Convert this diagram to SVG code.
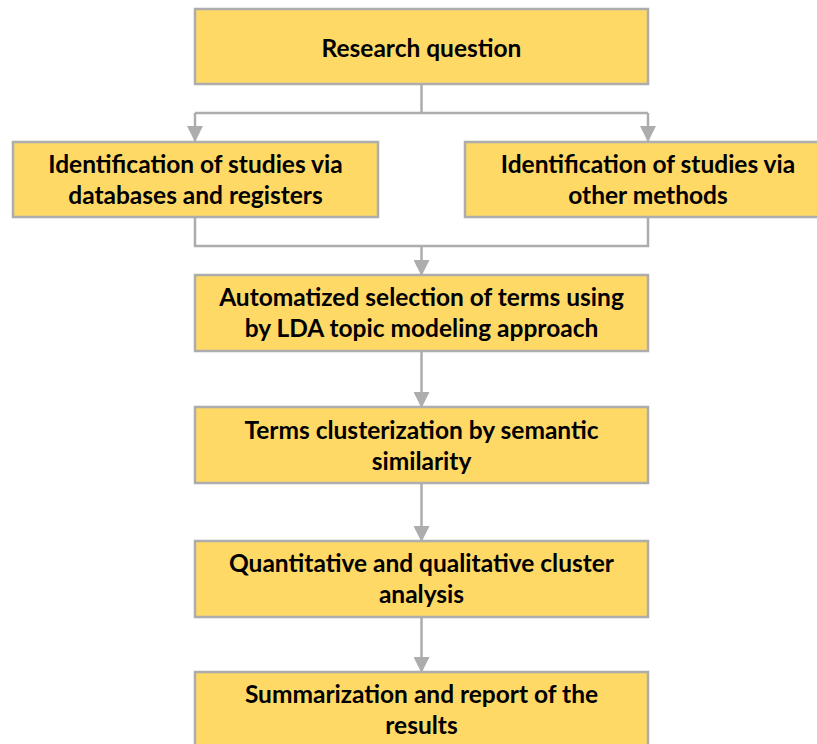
<svg xmlns="http://www.w3.org/2000/svg" width="817" height="744" viewBox="0 0 817 744">
<style>
.box{fill:#FFD966;stroke:#ADADAD;stroke-width:2.5}
.t{font-family:Lato,"Open Sans","Liberation Sans",sans-serif;font-weight:bold;font-size:24.5px;fill:#000;text-anchor:middle}
.c{fill:none;stroke:#ADADAD;stroke-width:2.5}
</style>
<defs>
<marker id="ah" viewBox="0 0 16 16" markerWidth="16" markerHeight="16" refX="15" refY="8" orient="auto" markerUnits="userSpaceOnUse">
<path d="M0,0 L16,8 L0,16 Z" fill="#ADADAD"/>
</marker>
</defs>
<rect width="817" height="744" fill="#fff"/>
<g id="connectors">
<path class="c" d="M421.5,84 V113"/>
<path class="c" d="M195,113 H648"/>
<path class="c" d="M195,113 V141" marker-end="url(#ah)"/>
<path class="c" d="M648,113 V141" marker-end="url(#ah)"/>
<path class="c" d="M195,217 V246 H648 V217"/>
<path class="c" d="M421.5,246 V275" marker-end="url(#ah)"/>
<path class="c" d="M421.5,351 V407" marker-end="url(#ah)"/>
<path class="c" d="M421.5,483 V541" marker-end="url(#ah)"/>
<path class="c" d="M421.5,617 V672" marker-end="url(#ah)"/>
</g>
<g id="n1"><rect class="box" x="195" y="9" width="453" height="75"/><text class="t" x="421.5" y="57">Research question</text></g>
<g id="n2"><rect class="box" x="13" y="142" width="365" height="75"/><text class="t" x="195.5" y="173">Identification of studies via</text><text class="t" x="195.5" y="204">databases and registers</text></g>
<g id="n3"><rect class="box" x="465" y="142" width="366" height="75"/><text class="t" x="648" y="173">Identification of studies via</text><text class="t" x="648" y="204">other methods</text></g>
<g id="n4"><rect class="box" x="195" y="275" width="453" height="76"/><text class="t" x="421.5" y="306">Automatized selection of terms using</text><text class="t" x="421.5" y="337">by LDA topic modeling approach</text></g>
<g id="n5"><rect class="box" x="195" y="407" width="453" height="76"/><text class="t" x="421.5" y="439">Terms clusterization by semantic</text><text class="t" x="421.5" y="470">similarity</text></g>
<g id="n6"><rect class="box" x="195" y="541" width="453" height="76"/><text class="t" x="421.5" y="572">Quantitative and qualitative cluster</text><text class="t" x="421.5" y="603">analysis</text></g>
<g id="n7"><rect class="box" x="195" y="672" width="453" height="80"/><text class="t" x="421.5" y="703">Summarization and report of the</text><text class="t" x="421.5" y="734">results</text></g>
</svg>
